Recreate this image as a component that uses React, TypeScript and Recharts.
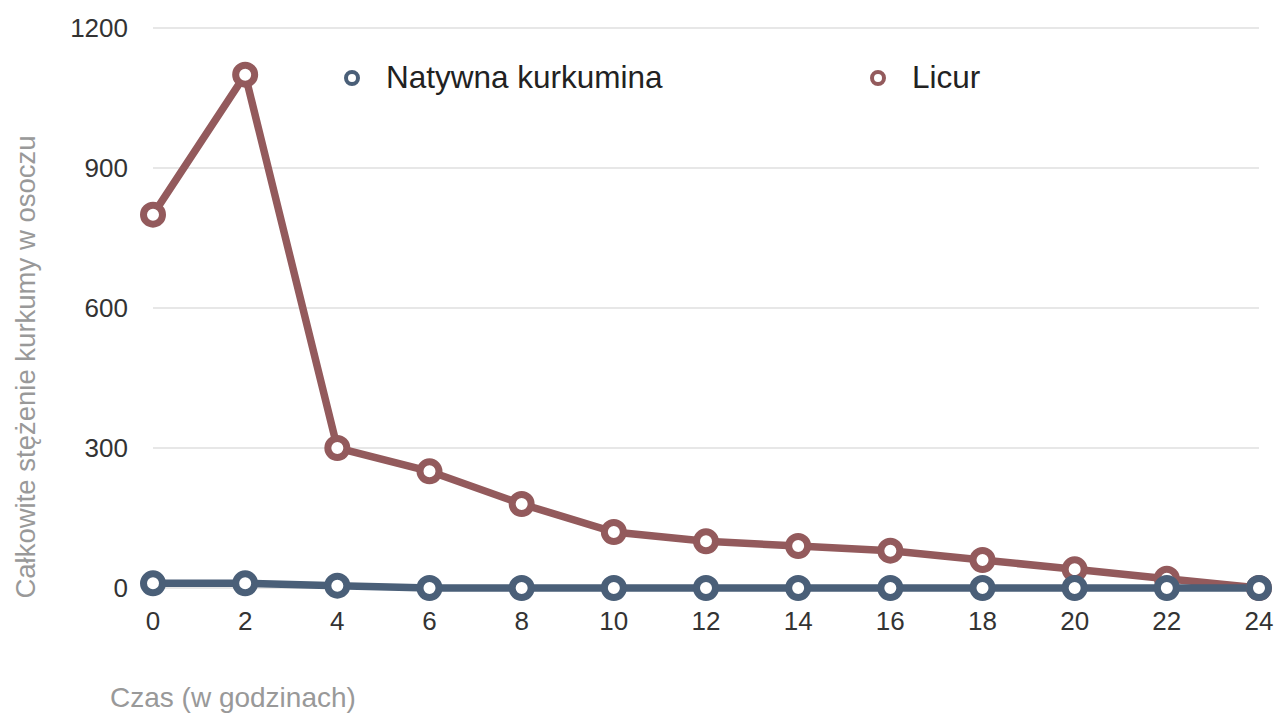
import { LineChart, Line, XAxis, YAxis, CartesianGrid, Legend } from 'recharts'

const hours = [0, 2, 4, 6, 8, 10, 12, 14, 16, 18, 20, 22, 24]
const natywna = [10, 10, 5, 0, 0, 0, 0, 0, 0, 0, 0, 0, 0]
const licur = [800, 1100, 300, 250, 180, 120, 100, 90, 80, 60, 40, 20, 0]
const yTicks = [0, 300, 600, 900, 1200]

const seriesNames = ['Natywna kurkumina', 'Licur']
const seriesColors = ['#4a5f78', '#935a5c']

const data = hours.map((t, i) => ({ t, natywna: natywna[i], licur: licur[i] }))

const font = '"Liberation Sans", Arial, Helvetica, sans-serif'

function LegendBox() {
  return (
    <div style={{ display: 'flex', fontFamily: font, fontSize: 31.5, color: '#222' }}>
      {seriesNames.map((name, i) => (
        <div key={name} style={{ width: 526, flexShrink: 0, display: 'flex', alignItems: 'center' }}>
          <svg width={48} height={30}>
            <circle cx={14} cy={15} r={6} fill="#fff" stroke={seriesColors[i]} strokeWidth={4} />
          </svg>
          <span>{name}</span>
        </div>
      ))}
    </div>
  )
}

export default function App() {
  return (
    <div style={{ width: 1275, height: 713, background: '#fff', fontFamily: font }}>
      <style>{`body{margin:0}`}</style>
      <LineChart width={1275} height={713} data={data} margin={{ top: 28, right: 16, bottom: 65, left: 0 }}>
        <CartesianGrid vertical={false} stroke="#cfcfcf" strokeWidth={1.2} />
        <XAxis
          dataKey="t"
          type="number"
          domain={[0, 24]}
          ticks={hours}
          height={60}
          axisLine={false}
          tickLine={false}
          tickSize={0}
          tickMargin={24}
          tick={{ fill: '#333', fontSize: 26, fontFamily: font }}
          label={{
            content: () => (
              <text x={110} y={697} dominantBaseline="central" fill="#999" fontSize={28} fontFamily={font}>
                Czas (w godzinach)
              </text>
            ),
          }}
        />
        <YAxis
          width={153}
          domain={[0, 1200]}
          ticks={yTicks}
          axisLine={false}
          tickLine={false}
          tickSize={0}
          tickMargin={25}
          tick={{ fill: '#333', fontSize: 26, fontFamily: font }}
          label={{
            content: (props: any) => {
              const vb = props.viewBox || { y: 28, height: 560 }
              const cy = vb.y + vb.height / 2 + 59
              return (
                <text
                  x={25}
                  y={cy}
                  transform={`rotate(-90, 25, ${cy})`}
                  textAnchor="middle"
                  dominantBaseline="central"
                  fill="#999"
                  fontSize={27.5}
                  fontFamily={font}
                >
                  Całkowite stężenie kurkumy w osoczu
                </text>
              )
            },
          }}
        />
        <Legend
          verticalAlign="middle"
          align="center"
          layout="horizontal"
          wrapperStyle={{ top: 59, left: 338, width: 1100 }}
          content={() => <LegendBox />}
        />
        <Line
          dataKey="licur"
          name={seriesNames[1]}
          stroke={seriesColors[1]}
          strokeWidth={7.5}
          dot={{ r: 9.5, fill: '#fff', stroke: seriesColors[1], strokeWidth: 7 }}
          isAnimationActive={false}
        />
        <Line
          dataKey="natywna"
          name={seriesNames[0]}
          stroke={seriesColors[0]}
          strokeWidth={7.5}
          dot={{ r: 9.5, fill: '#fff', stroke: seriesColors[0], strokeWidth: 7 }}
          isAnimationActive={false}
        />
      </LineChart>
    </div>
  )
}
